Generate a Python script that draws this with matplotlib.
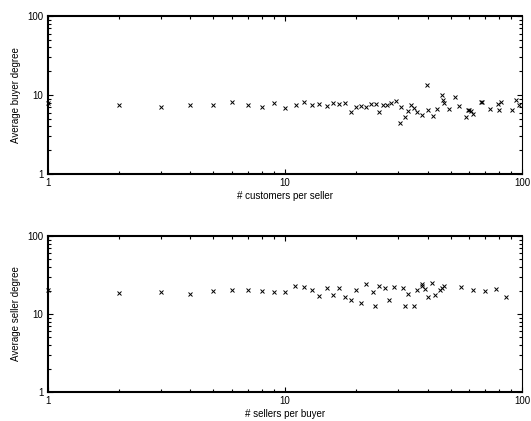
import matplotlib
matplotlib.use('Agg')
import matplotlib.pyplot as plt
from matplotlib.ticker import FixedLocator, FixedFormatter, LogLocator, NullFormatter

plt.rcParams['font.family'] = ['Liberation Sans', 'DejaVu Sans']

# customers per seller vs average buyer degree
cust_per_seller = [1, 2, 3, 4, 5, 6, 7, 8, 9, 10, 11.1, 12, 13, 14, 15, 16, 17, 18,
                   19, 20, 21, 22, 23, 24.3, 25, 26, 27, 28, 29.5, 30.5, 31, 32, 33,
                   34, 35, 36, 38, 39.7, 40, 42, 44, 45.9, 46.5, 47, 49, 52, 54, 58,
                   59, 60, 61, 62, 67, 67.5, 73, 79, 81.7, 80, 91, 93.9, 97.3]
avg_buyer_deg = [7.85, 7.47, 7.1, 7.4, 7.55, 8.15, 7.55, 7.05, 7.85, 6.85, 7.55, 8.15,
                 7.47, 7.6, 7.2, 7.85, 7.6, 8.0, 6.04, 7.1, 7.2, 7.1, 7.6, 7.75, 6.15,
                 7.4, 7.4, 8.0, 8.3, 4.38, 7.1, 5.2, 6.2, 7.47, 6.85, 6.1, 5.63, 13.2,
                 6.5, 5.4, 6.7, 10.1, 8.65, 7.85, 6.6, 9.35, 7.2, 5.2, 6.5, 6.5, 6.2,
                 5.8, 8.15, 8.15, 6.7, 7.7, 8.1, 6.5, 6.5, 8.75, 7.55]

# sellers per buyer vs average seller degree
sellers_per_buyer = [1, 2, 3, 4, 5, 6, 7, 8, 9, 10, 11, 12, 13, 14, 15, 16, 17, 18,
                     19, 20, 21, 22, 23.5, 24, 25, 26.5, 27.5, 29, 31.5, 32, 33, 35,
                     36, 37.7, 38, 39, 40, 41.8, 43, 45, 46, 47, 55.2, 62.3, 69.5,
                     77.5, 86]
avg_seller_deg = [20.1, 18.8, 18.9, 18.0, 19.7, 20.1, 20.1, 19.9, 19.3, 19.1, 22.9,
                  22.0, 20.3, 17.0, 21.8, 17.3, 21.8, 16.7, 15.3, 20.5, 13.8, 24.0,
                  18.9, 12.7, 22.9, 21.3, 15.0, 22.3, 21.3, 12.7, 18.0, 12.7, 20.3,
                  24.0, 22.6, 21.0, 16.4, 25.0, 17.5, 20.5, 21.8, 22.9, 22.0, 20.1,
                  19.5, 21.0, 16.5]

fig = plt.figure(figsize=(5.31, 4.21), dpi=100)
ax1 = fig.add_axes([0.0895, 0.5867, 0.8936, 0.3753])
ax2 = fig.add_axes([0.0895, 0.0689, 0.8936, 0.3705])


def style(ax, xlabel, ylabel):
    ax.set_xscale('log')
    ax.set_yscale('log')
    ax.set_xlim(1, 100)
    ax.set_ylim(1, 100)
    for a in (ax.xaxis, ax.yaxis):
        a.set_major_locator(FixedLocator([1, 10, 100]))
        a.set_major_formatter(FixedFormatter(['1', '10', '100']))
        a.set_minor_locator(LogLocator(base=10, subs=range(2, 10)))
        a.set_minor_formatter(NullFormatter())
    ax.tick_params(which='both', direction='in', top=True, right=True,
                   labelsize=7, width=0.8, pad=3)
    ax.tick_params(which='major', length=3.5)
    ax.tick_params(which='minor', length=2)
    for side in ('left', 'bottom', 'top'):
        ax.spines[side].set_linewidth(1.5)
    ax.spines['right'].set_linewidth(0.8)
    ax.set_xlabel(xlabel, fontsize=7, labelpad=2)
    ax.set_ylabel(ylabel, fontsize=7)


ax1.plot(cust_per_seller, avg_buyer_deg, 'x', color='black', markersize=3.2,
         markeredgewidth=0.7, clip_on=False)
style(ax1, '# customers per seller', 'Average buyer degree')

ax2.plot(sellers_per_buyer, avg_seller_deg, 'x', color='black', markersize=3.2,
         markeredgewidth=0.7, clip_on=False)
style(ax2, '# sellers per buyer', 'Average seller degree')

# keep both y-labels at the same distance from the left edge
for ax in (ax1, ax2):
    ax.yaxis.set_label_coords(-0.055, 0.5)

fig.savefig('out.png', dpi=100)
